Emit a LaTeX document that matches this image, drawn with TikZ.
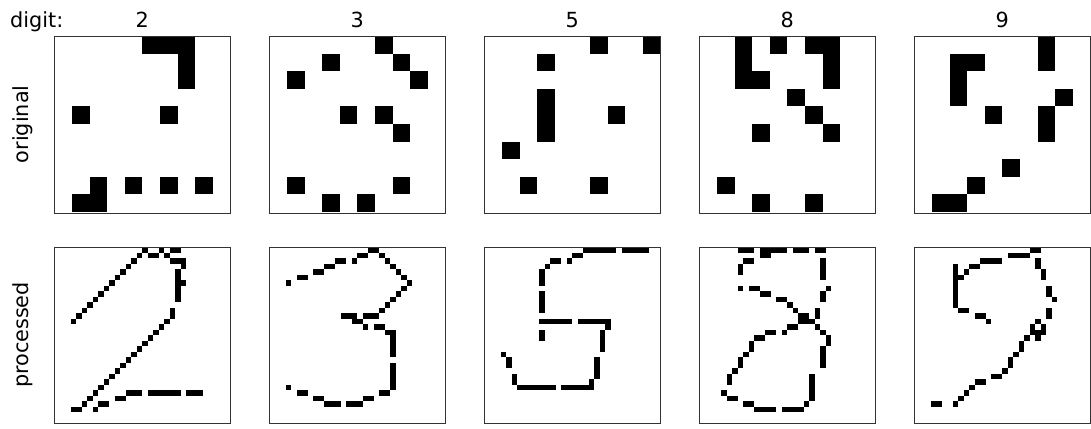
\documentclass[tikz,border=0pt]{standalone}
\usepackage{fontspec}
\setmainfont{DejaVu Sans}
\newcommand\pixcells[4]{%
  \foreach \cc/\rr in {#4} {\fill[black] (#1+\cc*#3, #2+\rr*#3) rectangle ++(#3,#3);}}
\begin{document}
\begin{tikzpicture}[x=1pt,y=-1pt,
  lbl/.style={font=\fontsize{20.8}{25}\selectfont, inner sep=0pt},
  panel/.style={draw=black!80, line width=1.1pt, minimum width=176pt, minimum height=176.5pt, inner sep=0pt, anchor=north west}]
\useasboundingbox (0,0) rectangle (1091,428);
\def\tc{17.6}
\def\bc{5.5}
\def\tt{36}
\def\bt{247.2}
% original row
\pixcells{54.3}{\tt}{\tc}{5/0,6/0,7/0,7/1,7/2,1/4,6/4,2/8,4/8,6/8,8/8,1/9,2/9}
\pixcells{269.3}{\tt}{\tc}{6/0,3/1,7/1,1/2,8/2,4/4,6/4,7/5,1/8,7/8,3/9,5/9}
\pixcells{484.3}{\tt}{\tc}{6/0,9/0,3/1,3/3,3/4,3/5,7/4,1/6,2/8,6/8}
\pixcells{699.3}{\tt}{\tc}{2/0,2/1,2/2,3/2,4/0,6/0,7/0,7/1,7/2,5/3,6/4,3/5,7/5,1/8,3/9,6/9}
\pixcells{914.3}{\tt}{\tc}{7/0,7/1,2/1,3/1,2/2,2/3,8/3,4/4,7/4,7/5,5/7,3/8,1/9,2/9}
% processed row
\pixcells{54.3}{\bt}{\bc}{3/13,4/12,5/11,6/10,7/9,8/8,9/7,10/6,11/5,12/4,13/3,14/2,15/1,16/0,
19/0,21/0,22/0,17/1,18/1,20/1,21/2,22/2,23/2,23/3,22/4,22/5,22/6,23/6,22/7,22/8,22/9,21/11,21/12,
20/13,19/14,18/15,17/16,16/17,15/18,14/19,13/20,12/21,11/22,10/23,9/24,8/25,7/26,6/27,5/28,4/29,3/29,
7/29,8/28,9/28,11/27,12/27,13/26,14/26,15/26,17/26,18/26,19/26,20/26,21/26,22/26,24/26,25/26,26/26}
\pixcells{269.3}{\bt}{\bc}{18/0,19/0,16/1,17/1,20/1,15/2,12/2,13/2,21/2,10/3,11/3,22/3,8/4,9/4,23/4,5/5,6/5,24/5,3/6,25/6,24/7,23/8,22/9,21/10,20/11,
17/12,18/12,19/12,13/12,14/12,15/12,15/13,16/13,17/14,19/14,20/14,21/15,22/15,22/16,22/17,22/18,22/19,
22/21,22/22,22/23,22/24,22/25,20/26,21/26,17/27,18/27,14/28,15/28,16/28,10/28,11/28,12/28,8/27,9/27,5/26,6/26,3/25}
\pixcells{484.3}{\bt}{\bc}{18/0,19/0,20/0,21/0,22/0,23/0,25/0,26/0,27/0,28/0,29/0,
16/1,17/1,15/2,12/2,13/2,11/3,10/4,10/5,10/6,10/8,10/9,10/10,10/11,
10/13,11/13,12/13,13/13,14/13,15/13,17/13,18/13,19/13,20/13,21/13,22/13,22/14,
10/15,10/16,21/15,21/16,21/17,21/18,20/20,20/21,20/22,20/23,19/24,19/25,
6/25,7/25,8/25,9/25,10/25,11/25,12/25,14/25,15/25,16/25,17/25,18/25,
3/19,4/20,4/21,5/23,5/24}
\pixcells{699.3}{\bt}{\bc}{7/0,8/0,9/0,11/0,12/0,13/0,14/0,15/0,17/0,18/0,19/0,21/0,22/0,11/1,12/1,
8/2,9/2,7/3,7/4,22/2,22/3,22/4,22/5,
7/7,9/7,10/7,23/7,11/8,12/8,22/8,22/9,14/9,15/9,16/10,17/11,21/11,21/12,
18/12,19/12,18/13,19/13,20/13,16/14,17/14,15/15,12/15,13/15,21/14,22/15,23/16,23/17,
22/18,22/19,22/20,22/21,10/16,11/16,9/17,9/18,8/19,7/20,7/21,6/22,5/23,5/24,4/26,
5/27,6/27,8/28,9/28,10/29,11/29,12/29,13/29,15/29,16/29,17/29,18/29,19/28,20/23,20/24,20/25,20/26,20/27}
\pixcells{914.3}{\bt}{\bc}{21/0,22/0,17/1,18/1,19/1,20/1,12/2,13/2,14/2,15/2,10/3,11/3,9/4,7/3,7/4,7/5,7/6,7/7,7/8,7/9,7/10,8/5,
8/11,9/11,11/12,12/12,13/13,
22/2,22/3,23/4,23/5,24/7,24/8,25/9,24/11,24/12,22/13,21/14,23/14,21/15,22/15,23/15,22/16,
20/16,19/17,19/18,18/19,17/20,17/21,16/22,14/23,15/23,11/24,12/24,10/25,9/26,8/27,7/28,3/28,4/28}
% frames
\foreach \i/\d in {0/2,1/3,2/5,3/8,4/9} {
  \node[panel] (orig\d) at (54.3+215*\i, \tt) {};
  \node[panel, minimum height=176pt] (proc\d) at (54.3+215*\i, \bt) {};
  \node[lbl, anchor=base] (title\d) at (142.3+215*\i, 28) {\d};
}
\node[lbl, anchor=base west] (digitlbl) at (10,28) {digit:};
\node[lbl, rotate=90, anchor=base] (origlbl) at (28,124.3) {original};
\node[lbl, rotate=90, anchor=base] (proclbl) at (28,335) {processed};
\end{tikzpicture}
\end{document}
